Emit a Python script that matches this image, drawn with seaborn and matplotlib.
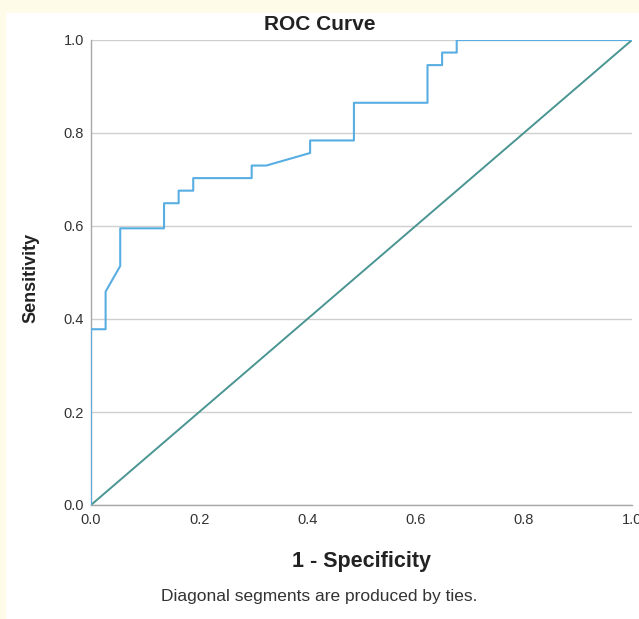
import numpy as np
import pandas as pd
import matplotlib
matplotlib.use("Agg")
import matplotlib.pyplot as plt
import seaborn as sns
from matplotlib.patches import Rectangle

# ROC points (1 - specificity, sensitivity)
fpr = [0.0, 0.0, 0.027, 0.027, 0.054, 0.054, 0.135, 0.135, 0.162, 0.162,
       0.189, 0.189, 0.297, 0.297, 0.324, 0.405, 0.405, 0.486, 0.486,
       0.622, 0.622, 0.649, 0.649, 0.676, 0.676, 1.0]
tpr = [0.0, 0.378, 0.378, 0.459, 0.514, 0.595, 0.595, 0.649, 0.649, 0.676,
       0.676, 0.703, 0.703, 0.730, 0.730, 0.757, 0.784, 0.784, 0.865,
       0.865, 0.946, 0.946, 0.973, 0.973, 1.0, 1.0]
ref_x = [0.0, 1.0]
ref_y = [0.0, 1.0]
ticks = [0.0, 0.2, 0.4, 0.6, 0.8, 1.0]
tick_labels = ["0.0", "0.2", "0.4", "0.6", "0.8", "1.0"]

sns.set_style("white")
plt.rcParams["font.family"] = ["Liberation Sans", "DejaVu Sans"]

fig = plt.figure(figsize=(6.39, 6.19), dpi=100)
fig.patch.set_facecolor("#fffbe9")
# white panel, cream strip only at top and left
fig.add_artist(Rectangle((6 / 639, 0), 1, 1 - 13 / 619, transform=fig.transFigure,
                         facecolor="white", edgecolor="none", zorder=0))

ax = fig.add_axes([91 / 639, 114 / 619, 541 / 639, 465 / 619])
ax.set_facecolor("white")

df = pd.DataFrame({"fpr": fpr, "tpr": tpr})
ref = pd.DataFrame({"x": ref_x, "y": ref_y})
sns.lineplot(data=ref, x="x", y="y", ax=ax, color="#4a9592", linewidth=1.4, zorder=3)
sns.lineplot(data=df, x="fpr", y="tpr", ax=ax, sort=False, estimator=None,
             color="#58aee2", linewidth=1.5, zorder=4)

ax.set_xlim(0, 1)
ax.set_ylim(0, 1)
ax.set_xticks(ticks)
ax.set_xticklabels(tick_labels)
ax.set_yticks(ticks)
ax.set_yticklabels(tick_labels)
ax.yaxis.grid(True, color="#cfcfcf", linewidth=1.0)
ax.xaxis.grid(False)
ax.set_axisbelow(True)

for s in ["top", "right"]:
    ax.spines[s].set_visible(False)
for s in ["left", "bottom"]:
    ax.spines[s].set_color("#a8a8a8")
    ax.spines[s].set_linewidth(1.0)

ax.tick_params(axis="y", length=3, color="#a8a8a8", labelsize=10.5, labelcolor="#333333", pad=2)
ax.tick_params(axis="x", length=0, labelsize=10.5, labelcolor="#333333", pad=6)

ax.set_xlabel("1 - Specificity", fontsize=15.5, fontweight="bold", labelpad=17, color="#222222")
ax.set_ylabel("")
fig.text(31 / 639, 1 - 278 / 619, "Sensitivity", rotation=90, ha="center", va="center",
         fontsize=13, fontweight="bold", color="#222222",
         family=["Liberation Sans Narrow", "Liberation Sans", "DejaVu Sans"])

fig.text(0.5, 1 - 24 / 619, "ROC Curve", ha="center", va="center",
         fontsize=15, fontweight="bold", color="#222222")
fig.text(0.5, 1 - 597 / 619, "Diagonal segments are produced by ties.", ha="center",
         va="center", fontsize=12.5, color="#333333")

fig.savefig("out.png", dpi=100, facecolor=fig.get_facecolor())
